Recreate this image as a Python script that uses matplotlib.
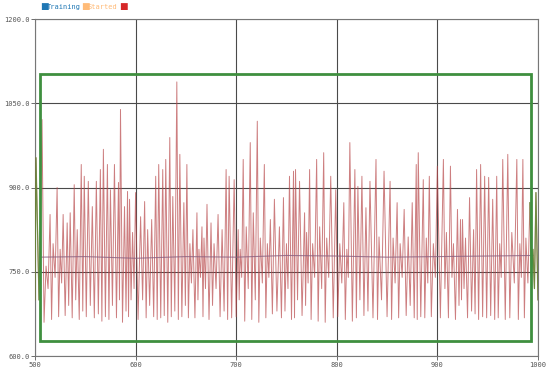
import numpy as np
import matplotlib
matplotlib.use('Agg')
from matplotlib import pyplot as plt
from matplotlib.patches import Rectangle

# peaks of the signal (x, value)
peak_x = [501, 507, 511, 515, 518, 522, 525, 528, 532, 535,
          539, 542, 546, 549, 553, 557, 561, 565, 568, 572,
          575, 579, 583, 585, 589, 592, 594, 597, 600, 605,
          609, 612, 616, 620, 623, 627, 630, 634, 637, 641,
          644, 648, 651, 654, 657, 661, 663, 666, 668, 671,
          675, 678, 682, 686, 690, 693, 698, 702, 704, 707,
          710, 714, 717, 721, 724, 728, 731, 734, 738, 743,
          747, 750, 753, 757, 759, 763, 768, 770, 773, 776,
          780, 783, 787, 790, 794, 799, 803, 807, 810, 813,
          818, 821, 825, 829, 833, 839, 842, 847, 853, 856,
          860, 863, 867, 871, 875, 879, 881, 886, 889, 892,
          896, 900, 906, 909, 913, 916, 920, 923, 925, 928,
          932, 936, 939, 943, 947, 951, 955, 959, 962, 965,
          970, 974, 979, 982, 985, 988, 992, 995, 998]
peak_y = [953, 1021, 760, 852, 800, 900, 790, 852, 837, 855,
          905, 825, 941, 920, 911, 866, 911, 932, 968, 941,
          896, 941, 909, 1039, 866, 893, 879, 820, 891, 848,
          875, 825, 843, 920, 941, 932, 950, 989, 884, 1088,
          959, 873, 941, 800, 825, 855, 790, 830, 810, 870,
          837, 800, 852, 825, 932, 920, 914, 825, 790, 950,
          830, 980, 855, 1018, 810, 941, 800, 843, 879, 830,
          882, 800, 920, 929, 932, 911, 855, 820, 932, 800,
          950, 830, 962, 810, 920, 896, 800, 873, 790, 980,
          932, 902, 920, 864, 911, 950, 812, 929, 911, 810,
          873, 800, 861, 812, 873, 941, 962, 914, 810, 920,
          800, 938, 950, 820, 938, 800, 861, 843, 843, 810,
          882, 825, 932, 941, 920, 918, 879, 920, 800, 950,
          959, 820, 950, 800, 950, 810, 873, 790, 891]
trough_y = [700, 660, 720, 665, 740, 670, 730, 672, 690, 668,
            700, 665, 680, 670, 690, 668, 675, 662, 670, 665,
            690, 668, 700, 660, 680, 670, 700, 720, 665, 700,
            668, 690, 670, 665, 668, 672, 660, 670, 680, 665,
            670, 690, 668, 730, 668, 700, 740, 670, 720, 665,
            690, 720, 670, 680, 665, 668, 670, 700, 740, 662,
            720, 665, 700, 660, 730, 668, 740, 675, 680, 668,
            680, 720, 665, 668, 700, 672, 690, 730, 665, 740,
            662, 720, 660, 740, 668, 670, 730, 665, 740, 662,
            668, 700, 672, 680, 668, 665, 700, 670, 665, 730,
            668, 740, 672, 690, 668, 665, 670, 668, 730, 670,
            740, 668, 720, 668, 740, 665, 690, 700, 720, 668,
            680, 675, 665, 670, 668, 672, 665, 668, 740, 665,
            668, 730, 665, 740, 668, 730, 740, 720, 700]

# running mean line
avg_x = [505, 550, 600, 650, 700, 750, 800, 850, 900, 950, 995]
avg_y = [776, 777, 774, 777, 776, 779, 778, 776, 777, 778, 779]

window = (505, 627, 993, 1102)  # x0, y0, x1, y1 of the highlighted area
x_ticks = [500, 600, 700, 800, 900, 1000]
y_ticks = [600, 750, 900, 1050, 1200]


def build_signal():
    px = np.array(peak_x, dtype=float)
    tx = np.append((px[:-1] + px[1:]) / 2.0, 1000.0)
    xs = np.empty(2 * len(px) + 1)
    ys = np.empty(2 * len(px) + 1)
    xs[0], ys[0] = 500, 700
    xs[1::2], ys[1::2] = px, peak_y
    xs[2::2], ys[2::2] = tx, trough_y
    return xs, ys


def main():
    fig = plt.figure(figsize=(5.5, 3.69), dpi=100)
    ax = fig.add_axes([0.0636, 0.0352, 0.9145, 0.9133])
    mono = 'DejaVu Sans Mono'

    xs, ys = build_signal()
    ax.plot(xs, ys, color='#b8484a', lw=0.7, alpha=0.7, zorder=3)
    for m in (xs <= 506.5, xs >= 990.5):
        ax.plot(xs[m], ys[m], color='#5a8a30', lw=0.9, alpha=0.8, zorder=4)
    ax.plot(avg_x, avg_y, color='#8a6080', lw=0.8, alpha=0.8, zorder=3)

    ax.add_patch(Rectangle((window[0], window[1]), window[2] - window[0],
                           window[3] - window[1], fill=False,
                           edgecolor='#3f8f3f', lw=2, zorder=5))

    ax.set_xlim(500, 1000)
    ax.set_ylim(600, 1200)
    ax.set_xticks(x_ticks)
    ax.set_xticklabels([str(v) for v in x_ticks], fontsize=5, family=mono,
                       color='#555555')
    ax.set_yticks(y_ticks)
    ax.set_yticklabels(['{:.1f}'.format(v) for v in y_ticks], fontsize=5,
                       family=mono, color='#555555')
    ax.tick_params(length=3, width=0.6, color='#555555', pad=1)
    ax.grid(True, color='#4a4a4a', lw=0.8, zorder=1)
    for s in ax.spines.values():
        s.set_color('#777777')
        s.set_linewidth(0.8)

    # legend across the top
    y0 = 1 - 7 / 369.
    items = [(40, '#1f77b4', 'Training'), (81, '#ffbb78', 'Started'),
             (119, '#d62728', '')]
    for px, col, label in items:
        fig.text(px / 550., y0, '\u25a0', color=col, fontsize=6.5,
                 va='center', ha='left')
        if label:
            fig.text((px + 7) / 550., y0, label, color=col, fontsize=5,
                     family=mono, va='center', ha='left')

    fig.savefig('out.png', dpi=100)


if __name__ == '__main__':
    main()
